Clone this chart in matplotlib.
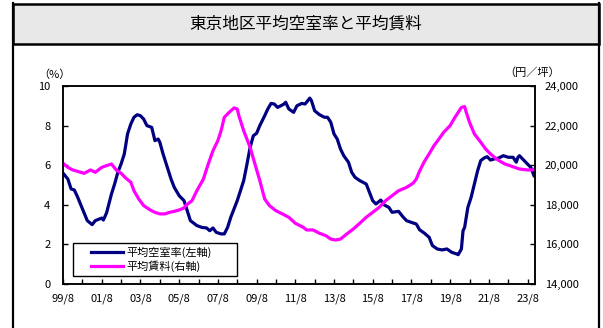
import matplotlib
matplotlib.use("Agg")
import matplotlib.pyplot as plt
from matplotlib.patches import Rectangle
from matplotlib.lines import Line2D
import pandas as pd

plt.rcParams["font.family"] = ["Noto Sans CJK JP", "DejaVu Sans"]

TITLE = "東京地区平均空室率と平均賃料"
VAC_LABEL = "平均空室率(左軸)"
RENT_LABEL = "平均賃料(右軸)"

# 平均空室率（%）
vac_dates = ["1999-08", "1999-11", "2000-01", "2000-03", "2000-05", "2000-08", "2000-11",
             "2001-02", "2001-04", "2001-08", "2001-09", "2001-11", "2002-02", "2002-04",
             "2002-06", "2002-08", "2002-10", "2002-12", "2003-02", "2003-04", "2003-06",
             "2003-08", "2003-10", "2003-12", "2004-03", "2004-05", "2004-07", "2004-08",
             "2004-10", "2004-12", "2005-03", "2005-05", "2005-08", "2005-11", "2006-01",
             "2006-03", "2006-07", "2006-10", "2007-01", "2007-03", "2007-05", "2007-07",
             "2007-10", "2007-12", "2008-02", "2008-04", "2008-06", "2008-08", "2008-10",
             "2008-12", "2009-02", "2009-04", "2009-06", "2009-08", "2009-10", "2010-01",
             "2010-03", "2010-05", "2010-07", "2010-09", "2010-11", "2011-01", "2011-02",
             "2011-04", "2011-07", "2011-09", "2011-12", "2012-02", "2012-03", "2012-05",
             "2012-06", "2012-08", "2012-11", "2013-02", "2013-04", "2013-06", "2013-08",
             "2013-10", "2013-12", "2014-02", "2014-05", "2014-07", "2014-09", "2014-12",
             "2015-04", "2015-06", "2015-08", "2015-10", "2016-01", "2016-03", "2016-06",
             "2016-08", "2016-12", "2017-03", "2017-05", "2017-08", "2017-11", "2018-01",
             "2018-04", "2018-07", "2018-09", "2018-12", "2019-03", "2019-06", "2019-09",
             "2019-12", "2020-01", "2020-03", "2020-04", "2020-05", "2020-07", "2020-09",
             "2020-11", "2021-01", "2021-03", "2021-05", "2021-07", "2021-09", "2021-11",
             "2022-02", "2022-05", "2022-08", "2022-11", "2023-01", "2023-02", "2023-03",
             "2023-05", "2023-08", "2023-10", "2023-12"]
vac_values = [5.60, 5.30, 4.80, 4.75, 4.40, 3.80, 3.20,
              3.00, 3.20, 3.33, 3.23, 3.60, 4.55, 5.05,
              5.64, 6.06, 6.57, 7.58, 8.08, 8.42, 8.55,
              8.50, 8.33, 8.00, 7.91, 7.24, 7.32, 7.16,
              6.57, 6.06, 5.30, 4.88, 4.46, 4.21, 3.70,
              3.20, 2.95, 2.86, 2.83, 2.69, 2.83, 2.61,
              2.53, 2.53, 2.86, 3.37, 3.79, 4.21, 4.71,
              5.22, 6.06, 6.90, 7.49, 7.61, 8.00, 8.50,
              8.84, 9.12, 9.09, 8.92, 9.00, 9.09, 9.18,
              8.84, 8.67, 9.00, 9.12, 9.09, 9.18, 9.39,
              9.26, 8.75, 8.55, 8.42, 8.42, 8.17, 7.58,
              7.32, 6.82, 6.48, 6.15, 5.64, 5.39, 5.22,
              5.05, 4.63, 4.21, 4.04, 4.24, 4.00, 3.87,
              3.62, 3.67, 3.37, 3.20, 3.11, 3.03, 2.74,
              2.57, 2.36, 1.94, 1.77, 1.72, 1.77, 1.60,
              1.52, 1.48, 1.77, 2.69, 2.86, 3.87, 4.38,
              5.05, 5.72, 6.23, 6.36, 6.43, 6.26, 6.31,
              6.36, 6.48, 6.40, 6.40, 6.15, 6.40, 6.48,
              6.31, 6.06, 5.89, 5.47]

# 平均賃料（円／坪）
rent_dates = ["1999-08", "1999-11", "2000-02", "2000-05", "2000-09", "2001-01", "2001-04",
              "2001-08", "2001-11", "2002-02", "2002-05", "2002-08", "2002-11", "2003-02",
              "2003-04", "2003-07", "2003-10", "2004-02", "2004-05", "2004-08", "2004-11",
              "2005-02", "2005-05", "2005-08", "2005-11", "2005-12", "2006-04", "2006-07",
              "2006-11", "2007-02", "2007-05", "2007-08", "2007-10", "2007-12", "2008-03",
              "2008-06", "2008-08", "2008-09", "2008-12", "2009-04", "2009-07", "2009-10",
              "2010-01", "2010-04", "2010-08", "2010-12", "2011-04", "2011-08", "2012-01",
              "2012-03", "2012-07", "2012-11", "2013-03", "2013-06", "2013-09", "2013-12",
              "2014-04", "2014-08", "2014-12", "2015-04", "2015-08", "2015-12", "2016-04",
              "2016-08", "2016-12", "2017-05", "2017-09", "2017-11", "2018-01", "2018-04",
              "2018-07", "2018-10", "2019-01", "2019-04", "2019-08", "2019-11", "2020-01",
              "2020-03", "2020-05", "2020-06", "2020-08", "2020-11", "2021-03", "2021-06",
              "2021-09", "2021-12", "2022-03", "2022-06", "2022-09", "2022-12", "2023-03",
              "2023-08", "2023-11", "2023-12"]
rent_values = [20100, 19890, 19760, 19690, 19590, 19760, 19640,
               19890, 19980, 20060, 19760, 19590, 19340, 19140,
               18710, 18290, 17960, 17740, 17620, 17540, 17540,
               17620, 17670, 17740, 17840, 17960, 18210, 18710,
               19300, 20060, 20730, 21240, 21740, 22420, 22670,
               22890, 22840, 22500, 21740, 20900, 20060, 19220,
               18290, 17960, 17700, 17540, 17370, 17070, 16860,
               16730, 16730, 16560, 16440, 16270, 16220, 16270,
               16530, 16780, 17070, 17370, 17620, 17870, 18210,
               18460, 18710, 18880, 19090, 19300, 19700, 20180,
               20570, 20990, 21320, 21660, 22000, 22420, 22670,
               22920, 22960, 22670, 22170, 21580, 21160, 20820,
               20570, 20360, 20200, 20060, 19980, 19890, 19810,
               19760, 19760, 19800]

x_labels = ["99/8", "01/8", "03/8", "05/8", "07/8", "09/8", "11/8",
            "13/8", "15/8", "17/8", "19/8", "21/8", "23/8"]
vac_ticks = [0, 2, 4, 6, 8, 10]
rent_ticks = [14000, 16000, 18000, 20000, 22000, 24000]

NAVY = "#000080"
MAGENTA = "#FF00FF"

W, H = 603, 328
fig = plt.figure(figsize=(W / 100, H / 100), dpi=100)


def px(x0, y0, x1, y1):
    # pixel box (top-left origin) -> figure fraction rect
    return [x0 / W, 1 - y1 / H, (x1 - x0) / W, (y1 - y0) / H]


# outer frame + title band
frame = fig.add_axes([0, 0, 1, 1], zorder=-1)
frame.set_xlim(0, W); frame.set_ylim(H, 0); frame.axis("off")
frame.plot([13, 13], [3, H + 5], color="black", lw=1.6)
frame.plot([599, 599], [3, H + 5], color="black", lw=1.6)
frame.add_patch(Rectangle((13, 4), 586, 40, facecolor="#E8E8E8",
                          edgecolor="black", lw=1.8))
frame.text(306, 24, TITLE, ha="center", va="center", fontsize=12)

ax = fig.add_axes(px(63, 86, 535, 284))
ax2 = ax.twinx()

vd = pd.to_datetime(vac_dates)
rd = pd.to_datetime(rent_dates)
ax.plot(vd, vac_values, color=NAVY, lw=2.3, solid_joinstyle="round")
ax2.plot(rd, rent_values, color=MAGENTA, lw=2.3, solid_joinstyle="round")

ax.set_ylim(0, 10)
ax.set_yticks(vac_ticks)
ax.set_yticklabels([str(v) for v in vac_ticks])
ax2.set_ylim(14000, 24000)
ax2.set_yticks(rent_ticks)
ax2.set_yticklabels([f"{v:,}" for v in rent_ticks])

ax.set_xlim(pd.Timestamp("1999-08-01"), pd.Timestamp("2023-12-20"))
year_ticks = [pd.Timestamp(f"{y}-08-01") for y in range(1999, 2024)]
ax.set_xticks(year_ticks)
ax.set_xticklabels([x_labels[i // 2] if i % 2 == 0 else "" for i in range(len(year_ticks))])

for a in (ax, ax2):
    for s in a.spines.values():
        s.set_linewidth(1.1)
    a.tick_params(direction="in", length=3.5, width=1, labelsize=8)
ax.tick_params(axis="y", pad=9)
ax.tick_params(axis="x", pad=7)
ax2.tick_params(axis="y", pad=7)

fig.text(38 / W, 1 - 75 / H, "（%）", ha="left", va="center", fontsize=8)
fig.text(504 / W, 1 - 73 / H, "（円／坪）", ha="left", va="center", fontsize=8)

# legend box drawn over the lines
ax2.add_patch(Rectangle((10 / 472, 8 / 198), 164 / 472, 33 / 198, transform=ax2.transAxes,
                        facecolor="white", edgecolor="black", lw=1.0, zorder=4))
handles = [Line2D([], [], color=NAVY, lw=2.3), Line2D([], [], color=MAGENTA, lw=2.3)]
leg = ax2.legend(handles, [VAC_LABEL, RENT_LABEL], loc="center left",
                 bbox_to_anchor=(28 / 472, 24.5 / 198), frameon=False, fontsize=8,
                 handlelength=2.9, handletextpad=0.3, labelspacing=0.25,
                 borderpad=0, borderaxespad=0)
leg.set_zorder(5)

fig.savefig("out.png", dpi=100)
